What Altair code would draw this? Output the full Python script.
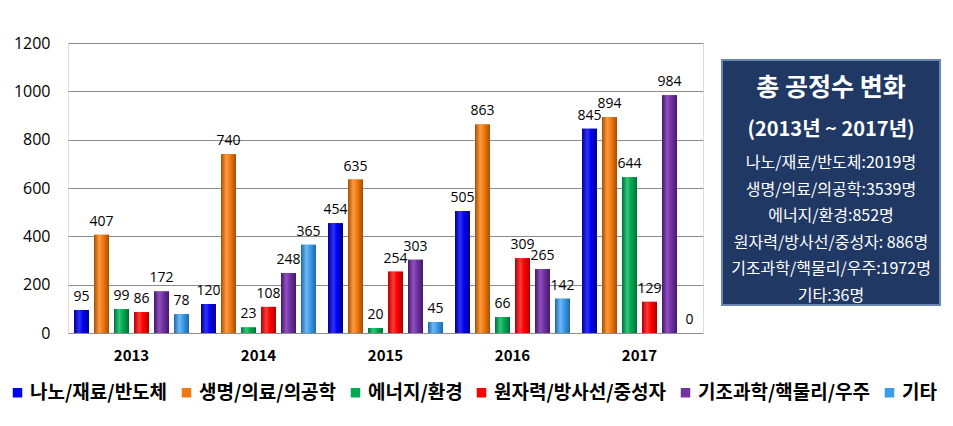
import altair as alt
import pandas as pd

years = ["2013", "2014", "2015", "2016", "2017"]
categories = ["나노/재료/반도체", "생명/의료/의공학", "에너지/환경",
              "원자력/방사선/중성자", "기조과학/핵물리/우주", "기타"]
nano = [95, 120, 454, 505, 845]
bio = [407, 740, 635, 863, 894]
energy = [99, 23, 20, 66, 644]
nuclear = [86, 108, 254, 309, 129]
basic = [172, 248, 303, 265, 984]
etc = [78, 365, 45, 142, 0]
series = [nano, bio, energy, nuclear, basic, etc]

base_colors = ["#0000F0", "#F07A12", "#00A850", "#FF0000", "#7232A2", "#3C9CE8"]
dark_colors = ["#00008C", "#A84E00", "#00703A", "#B00000", "#44186A", "#1E68A8"]
light_colors = ["#3030FF", "#FF9A40", "#30C878", "#FF3A3A", "#9050C0", "#6CB8F4"]

box_lines = ["나노/재료/반도체:2019명", "생명/의료/의공학:3539명", "에너지/환경:852명",
             "원자력/방사선/중성자: 886명", "기조과학/핵물리/우주:1972명", "기타:36명"]
box_title = "총 공정수 변화"
box_subtitle = "(2013년 ~ 2017년)"

rows = []
for c, vals in zip(categories, series):
    for y, v in zip(years, vals):
        rows.append({"year": y, "cat": c, "value": v})
df = pd.DataFrame(rows)

FONT = "Noto Sans CJK KR"

x_enc = alt.X("year:N", sort=years, title=None,
              scale=alt.Scale(paddingInner=0, paddingOuter=0),
              axis=alt.Axis(labelFontWeight="bold", labelFontSize=15, labelFont=FONT,
                            labelColor="#000000", ticks=False, domain=False,
                            labelPadding=15, labelAngle=0))
xo_enc = alt.XOffset("cat:N", sort=categories,
                     scale=alt.Scale(paddingInner=0.25, paddingOuter=0.3))
y_enc = alt.Y("value:Q", title=None,
              scale=alt.Scale(domain=[0, 1200]),
              axis=alt.Axis(values=[0, 200, 400, 600, 800, 1000, 1200], format="d",
                            labelFontSize=16, labelFont="Open Sans",
                            labelColor="#000000", ticks=False, domain=False,
                            labelPadding=18, gridColor="#8C8C8C", gridWidth=1))

base = alt.Chart(df).mark_bar().encode(
    x=x_enc, xOffset=xo_enc, y=y_enc,
    color=alt.Color("cat:N", sort=categories,
                    scale=alt.Scale(domain=categories, range=base_colors),
                    legend=alt.Legend(title=None, orient="none", direction="horizontal",
                                      legendX=-60, legendY=340, columns=6,
                                      symbolType="square", symbolSize=90,
                                      symbolStrokeWidth=0, symbolOffset=0,
                                      labelFontSize=19, labelFont=FONT, labelLimit=0,
                                      labelFontWeight="bold", labelColor="#000000",
                                      columnPadding=9, labelOffset=3))
)

layers = [base]
for c, b, d, l in zip(categories, base_colors, dark_colors, light_colors):
    grad = alt.Gradient(gradient="linear", x1=0, x2=1, y1=0, y2=0,
                        stops=[alt.GradientStop(color=d, offset=0),
                               alt.GradientStop(color=l, offset=0.35),
                               alt.GradientStop(color=b, offset=0.6),
                               alt.GradientStop(color=d, offset=1)])
    layers.append(
        alt.Chart(df).transform_filter(alt.datum.cat == c)
        .mark_bar(color=grad)
        .encode(x=x_enc, xOffset=xo_enc, y=y_enc)
    )

labels = alt.Chart(df).mark_text(baseline="bottom", dy=-6, fontSize=14,
                                 font="Open Sans", color="#000000").encode(
    x=x_enc, xOffset=xo_enc, y=y_enc, text="value:Q")
layers.append(labels)

box = alt.Chart(pd.DataFrame({"k": [0]})).mark_rect(
    fill="#1F3864", stroke="#6A86B4", strokeWidth=2
).encode(x=alt.value(654), x2=alt.value(872), y=alt.value(17), y2=alt.value(262))

title_t = alt.Chart(pd.DataFrame({"t": [box_title]})).mark_text(
    font=FONT, fontSize=25, fontWeight="bold", color="white", align="center",
    baseline="middle").encode(x=alt.value(763), y=alt.value(45), text="t:N")
sub_t = alt.Chart(pd.DataFrame({"t": [box_subtitle]})).mark_text(
    font=FONT, fontSize=20, fontWeight="bold", color="white", align="center",
    baseline="middle").encode(x=alt.value(763), y=alt.value(87), text="t:N")
lines_t = alt.Chart(pd.DataFrame({"t": box_lines, "i": list(range(len(box_lines)))})).transform_calculate(
    py="120 + datum.i * 26.6"
).mark_text(font=FONT, fontSize=16, color="white", align="center", baseline="middle").encode(
    x=alt.value(763), y=alt.Y("py:Q", scale=None), text="t:N")

layers += [box, title_t, sub_t, lines_t]

chart = alt.layer(*layers).properties(
    width=635, height=290,
    autosize=alt.AutoSizeParams(type="none"),
    padding={"left": 60, "top": 35, "right": 242, "bottom": 85}
).configure_view(stroke=None, clip=False).configure(background="white")

chart.save("out.html", embed_options={"renderer": "svg", "actions": False})
